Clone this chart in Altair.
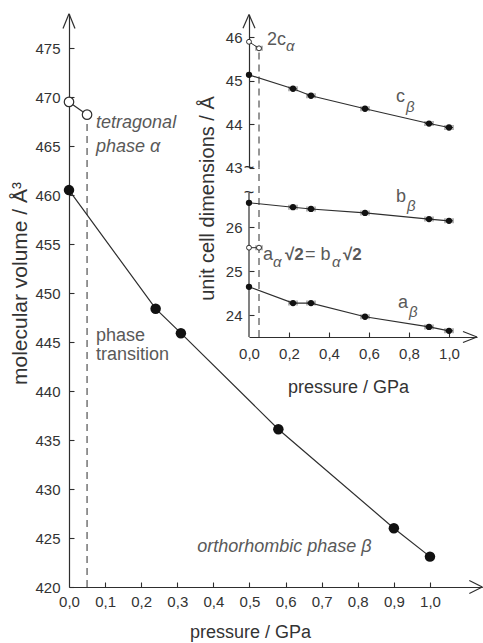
import altair as alt
import pandas as pd

FONT = "Liberation Sans"
INK = "#2e2e2e"
TXT = "#333333"
NOTE = "#595959"

# ---------------- data: main panel ----------------
p_beta = [0.00, 0.24, 0.31, 0.58, 0.90, 1.00]
vol_beta = [460.5, 448.4, 445.9, 436.1, 426.0, 423.1]
p_alpha = [0.00, 0.05]
vol_alpha = [469.5, 468.2]
p_transition = 0.05

main_x_ticks = [0.0, 0.1, 0.2, 0.3, 0.4, 0.5, 0.6, 0.7, 0.8, 0.9, 1.0]
main_y_ticks = [420, 425, 430, 435, 440, 445, 450, 455, 460, 465, 470, 475]
main_x_end = 1.145
main_y_lo, main_y_hi = 420.0, 478.5

# ---------------- data: inset ----------------
p_cell = [0.00, 0.22, 0.31, 0.58, 0.90, 1.00]
c_beta = [45.13, 44.81, 44.65, 44.35, 44.01, 43.92]
b_beta = [26.55, 26.45, 26.41, 26.32, 26.18, 26.14]
a_beta = [24.64, 24.27, 24.27, 23.96, 23.73, 23.64]
p_cell_err = [0.0, 0.02, 0.02, 0.02, 0.02, 0.02]
p_cell_alpha = [0.00, 0.05]
c2_alpha = [45.89, 45.74]
ab_alpha = [25.53, 25.53]
p_cell_alpha_err = [0.0, 0.015]

inset_x_ticks = [0.0, 0.2, 0.4, 0.6, 0.8, 1.0]
upper_ticks = [43, 44, 45, 46]
lower_ticks = [24, 25, 26]
inset_x_end = 1.14
upper_lo, upper_hi = 43.0, 46.52
lower_lo, lower_hi, lower_gap_top = 23.5, 26.77, 27.35

# ---------------- scales (pixel ranges place both panels) ----------------
MX = alt.Scale(domain=[0, main_x_end], range=[69, 482.3], nice=False, zero=False)
MY = alt.Scale(domain=[main_y_lo, main_y_hi], range=[587, 13.7], nice=False, zero=False)
IX = alt.Scale(domain=[0, inset_x_end], range=[249, 477], nice=False, zero=False)
IU = alt.Scale(domain=[upper_lo, upper_hi], range=[167.5, 14.4], nice=False, zero=False)
IL = alt.Scale(domain=[lower_lo, lower_gap_top], range=[337, 167.6], nice=False, zero=False)

COMMA = "replace(format(datum.value, '.1f'), '.', ',')"
base_ax = dict(grid=False, domainColor=INK, tickColor=INK, labelColor=TXT,
               labelFont=FONT, titleFont=FONT, labelFontSize=15, domainWidth=1.2,
               tickWidth=1.1, labelFlush=False, labelOverlap=False, titleColor=TXT,
               titleFontWeight="normal")


def lab_axis(**kw):
    d = dict(base_ax)
    d.update(ticks=False, tickSize=0)
    d.update(kw)
    return alt.Axis(**d)


def tick_axis(**kw):
    d = dict(base_ax)
    d.update(labels=False, domain=False, ticks=True, tickSize=5, title="")
    d.update(kw)
    return alt.Axis(**d)


def X(scale, field="p", axis=None):
    return alt.X(field, type="quantitative", scale=scale, axis=axis)


def Y(scale, field="v", axis=None):
    return alt.Y(field, type="quantitative", scale=scale, axis=axis)


layers = []

# ================= main panel =================
main_x_lab = lab_axis(orient="bottom", offset=-56, values=main_x_ticks, labelExpr=COMMA,
                      labelPadding=7, title="pressure / GPa", titleX=250, titleY=45,
                      titleAlign="center", titleBaseline="middle", titleFontSize=18)
main_x_tick = tick_axis(orient="top", offset=-587, values=main_x_ticks[1:])
main_y_lab = lab_axis(orient="left", offset=-69, values=main_y_ticks, labelPadding=9,
                      title="molecular volume / Å³", titleX=-49, titleY=283, titleAngle=270,
                      titleAlign="center", titleBaseline="middle", titleFontSize=21)
main_y_tick = tick_axis(orient="right", offset=-414, values=main_y_ticks)

dash_main = pd.DataFrame({"p": [p_transition], "v": [main_y_lo], "v2": [vol_alpha[1]]})
layers.append(alt.Chart(dash_main).mark_rule(color=INK, strokeWidth=1, strokeDash=[7, 5])
              .encode(x=X(MX), y=Y(MY), y2="v2"))

alpha_df = pd.DataFrame({"p": p_alpha, "v": vol_alpha})
beta_df = pd.DataFrame({"p": p_beta, "v": vol_beta})
layers.append(alt.Chart(alpha_df).mark_line(color=INK, strokeWidth=1.2)
              .encode(x=X(MX), y=Y(MY)))
layers.append(alt.Chart(beta_df).mark_line(color=INK, strokeWidth=1.2)
              .encode(x=X(MX, axis=main_x_tick), y=Y(MY, axis=main_y_tick)))
layers.append(alt.Chart(alpha_df).mark_point(shape="circle", fill="white", stroke=INK,
                                             strokeWidth=1.2, size=90, opacity=1)
              .encode(x=X(MX), y=Y(MY)))
layers.append(alt.Chart(beta_df).mark_circle(color="#111111", size=110, opacity=1)
              .encode(x=X(MX, axis=main_x_lab), y=Y(MY, axis=main_y_lab)))

# arrow heads at the ends of the main axes
arr_main = pd.DataFrame({
    "p": [0, 0, main_x_end, main_x_end],
    "v": [main_y_hi, main_y_hi, main_y_lo, main_y_lo],
    "p2": [-0.0166, 0.0166, main_x_end - 0.036, main_x_end - 0.036],
    "v2": [main_y_hi - 1.5, main_y_hi - 1.5, main_y_lo + 0.66, main_y_lo - 0.66],
})
layers.append(alt.Chart(arr_main).mark_rule(color=INK, strokeWidth=1.2)
              .encode(x=X(MX), y=Y(MY), x2="p2", y2="v2"))

notes_main_it = pd.DataFrame({"p": [0.075, 0.075, 0.355],
                              "v": [467.3, 464.9, 424.1],
                              "t": ["tetragonal", "phase α", "orthorhombic phase β"]})
notes_main = pd.DataFrame({"p": [0.075, 0.075], "v": [445.6, 443.7],
                           "t": ["phase", "transition"]})
layers.append(alt.Chart(notes_main_it).mark_text(align="left", baseline="middle", font=FONT,
                                                 fontSize=18, fontStyle="italic", color=NOTE)
              .encode(x=X(MX), y=Y(MY), text="t"))
layers.append(alt.Chart(notes_main).mark_text(align="left", baseline="middle", font=FONT,
                                              fontSize=18, color=NOTE)
              .encode(x=X(MX), y=Y(MY), text="t"))

# ================= inset =================
ins_x_lab = lab_axis(orient="bottom", offset=-306, values=inset_x_ticks, labelExpr=COMMA,
                     labelPadding=9, title="pressure / GPa", titleX=348, titleY=50,
                     titleAlign="center", titleBaseline="middle", titleFontSize=18)
ins_x_tick = tick_axis(orient="top", offset=-337, values=inset_x_ticks[1:])
ins_u_lab = lab_axis(orient="left", offset=-249, values=upper_ticks, labelPadding=7,
                     title="unit cell dimensions / Å", titleX=-42, titleY=198, titleAngle=270,
                     titleAlign="center", titleBaseline="middle", titleFontSize=20)
ins_u_tick = tick_axis(orient="right", offset=-234, values=upper_ticks)
ins_l_lab = lab_axis(orient="left", offset=-249, values=lower_ticks, labelPadding=7,
                     domain=False, title="")
ins_l_tick = tick_axis(orient="right", offset=-234, values=lower_ticks)

# lower axis line (stops at the break)
layers.append(alt.Chart(pd.DataFrame({"p": [0], "v": [lower_lo], "v2": [lower_hi]}))
              .mark_rule(color=INK, strokeWidth=1.2)
              .encode(x=X(IX), y=Y(IL), y2="v2"))

# dashed transition line in the inset
layers.append(alt.Chart(pd.DataFrame({"p": [p_transition], "v": [upper_lo], "v2": [c2_alpha[1]]}))
              .mark_rule(color=INK, strokeWidth=1, strokeDash=[7, 5])
              .encode(x=X(IX), y=Y(IU), y2="v2"))
layers.append(alt.Chart(pd.DataFrame({"p": [p_transition], "v": [lower_lo], "v2": [lower_gap_top]}))
              .mark_rule(color=INK, strokeWidth=1, strokeDash=[7, 5])
              .encode(x=X(IX), y=Y(IL), y2="v2"))

c_df = pd.DataFrame({"p": p_cell, "v": c_beta, "e": p_cell_err})
ba_df = pd.concat([
    pd.DataFrame({"p": p_cell, "v": b_beta, "e": p_cell_err, "s": "b"}),
    pd.DataFrame({"p": p_cell, "v": a_beta, "e": p_cell_err, "s": "a"}),
])
c2a_df = pd.DataFrame({"p": p_cell_alpha, "v": c2_alpha, "e": p_cell_alpha_err})
aba_df = pd.DataFrame({"p": p_cell_alpha, "v": ab_alpha, "e": p_cell_alpha_err})


def errbars(df, ys):
    d = df[df["e"] > 0].copy()
    d["lo"] = d["p"] - d["e"]
    d["hi"] = d["p"] + d["e"]
    bar = alt.Chart(d).mark_rule(color=INK, strokeWidth=1).encode(
        x=X(IX, "lo"), x2="hi", y=Y(ys))
    capl = alt.Chart(d).mark_tick(color=INK, orient="vertical", size=5, thickness=1).encode(
        x=X(IX, "lo"), y=Y(ys))
    capr = alt.Chart(d).mark_tick(color=INK, orient="vertical", size=5, thickness=1).encode(
        x=X(IX, "hi"), y=Y(ys))
    return [bar, capl, capr]


layers.append(alt.Chart(c2a_df).mark_line(color=INK, strokeWidth=1).encode(x=X(IX), y=Y(IU)))
layers.append(alt.Chart(aba_df).mark_line(color=INK, strokeWidth=1).encode(x=X(IX), y=Y(IL)))
layers.append(alt.Chart(c_df).mark_line(color=INK, strokeWidth=1.1)
              .encode(x=X(IX, axis=ins_x_tick), y=Y(IU, axis=ins_u_tick)))
layers.append(alt.Chart(ba_df).mark_line(color=INK, strokeWidth=1.1)
              .encode(x=X(IX), y=Y(IL, axis=ins_l_tick), detail="s:N"))
layers += errbars(c_df, IU)
layers += errbars(ba_df, IL)
layers += errbars(c2a_df, IU)
layers += errbars(aba_df, IL)
layers.append(alt.Chart(c2a_df).mark_point(shape="circle", fill="white", stroke=INK,
                                           strokeWidth=1, size=24, opacity=1)
              .encode(x=X(IX), y=Y(IU)))
layers.append(alt.Chart(aba_df).mark_point(shape="circle", fill="white", stroke=INK,
                                           strokeWidth=1, size=24, opacity=1)
              .encode(x=X(IX), y=Y(IL)))
layers.append(alt.Chart(c_df).mark_circle(color="#111111", size=40, opacity=1)
              .encode(x=X(IX, axis=ins_x_lab), y=Y(IU, axis=ins_u_lab)))
layers.append(alt.Chart(ba_df).mark_circle(color="#111111", size=40, opacity=1)
              .encode(x=X(IX), y=Y(IL, axis=ins_l_lab)))

# inset arrow heads
arr_u = pd.DataFrame({"p": [0, 0], "v": [upper_hi, upper_hi],
                      "p2": [-0.03, 0.03], "v2": [upper_hi - 0.32, upper_hi - 0.32]})
arr_x = pd.DataFrame({"p": [inset_x_end, inset_x_end], "v": [lower_lo, lower_lo],
                      "p2": [inset_x_end - 0.07, inset_x_end - 0.07],
                      "v2": [lower_lo + 0.125, lower_lo - 0.125]})
layers.append(alt.Chart(arr_u).mark_rule(color=INK, strokeWidth=1.2)
              .encode(x=X(IX), y=Y(IU), x2="p2", y2="v2"))
layers.append(alt.Chart(arr_x).mark_rule(color=INK, strokeWidth=1.2)
              .encode(x=X(IX), y=Y(IL), x2="p2", y2="v2"))

# axis break marks
layers.append(alt.Chart(pd.DataFrame({"p": [0], "v": [upper_lo], "t": ["~"]}))
              .mark_text(font=FONT, fontSize=18, color=INK, baseline="middle")
              .encode(x=X(IX), y=Y(IU), text="t"))
layers.append(alt.Chart(pd.DataFrame({"p": [0], "v": [lower_hi], "t": ["~"]}))
              .mark_text(font=FONT, fontSize=18, color=INK, baseline="middle")
              .encode(x=X(IX), y=Y(IL), text="t"))

# inset labels
up_plain = pd.DataFrame({"p": [0.09, 0.735], "v": [45.93, 44.62], "t": ["2c", "c"]})
up_sub = pd.DataFrame({"p": [0.185, 0.785], "v": [45.80, 44.40], "t": ["α", "β"]})
lo_plain = pd.DataFrame({"p": [0.735, 0.745, 0.07, 0.28], "v": [26.68, 24.27, 25.36, 25.36],
                         "t": ["b", "a", "a", "= b"]})
lo_sub = pd.DataFrame({"p": [0.79, 0.80, 0.12, 0.415], "v": [26.48, 24.07, 25.20, 25.20],
                       "t": ["β", "β", "α", "α"]})
lo_bold = pd.DataFrame({"p": [0.18, 0.47], "v": [25.36, 25.36], "t": ["√2", "√2"]})


def note(df, ys, size, **kw):
    return (alt.Chart(df).mark_text(align="left", baseline="middle", font=FONT,
                                    fontSize=size, color=NOTE, **kw)
            .encode(x=X(IX), y=Y(ys), text="t"))


layers.append(note(up_plain, IU, 18))
layers.append(note(up_sub, IU, 15, fontStyle="italic"))
layers.append(note(lo_plain, IL, 18))
layers.append(note(lo_sub, IL, 15, fontStyle="italic"))
layers.append(note(lo_bold, IL, 17, fontWeight="bold"))

chart = (alt.layer(*layers)
         .resolve_scale(x="independent", y="independent")
         .resolve_axis(x="independent", y="independent")
         .properties(width=483, height=643, padding=0,
                     autosize=alt.AutoSizeParams(type="none"), background="white")
         .configure_view(stroke=None))

chart.save("out.html", embed_options={"renderer": "svg", "actions": False})
